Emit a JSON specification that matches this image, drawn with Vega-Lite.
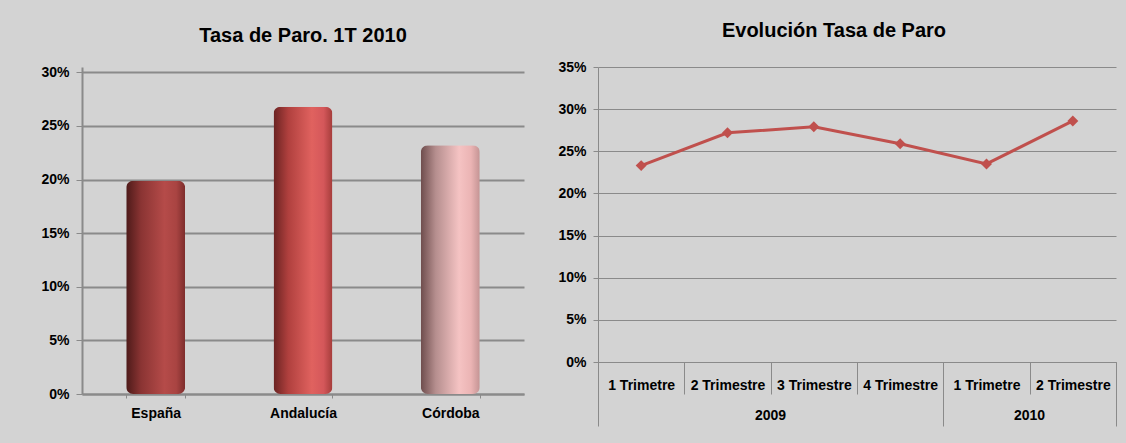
{
  "$schema": "https://vega.github.io/schema/vega-lite/v6.json",
  "background": "#D3D3D3",
  "padding": {"left": 40, "top": 21, "right": 11, "bottom": 26},
  "spacing": 74,
  "bounds": "flush",
  "config": {
    "font": "Liberation Sans",
    "view": {"stroke": null},
    "title": {"fontSize": 20, "fontWeight": "bold", "color": "#000000", "font": "Liberation Sans", "baseline": "alphabetic", "offset": 19},
    "axis": {"labelFont": "Liberation Sans", "labelFontSize": 14, "labelFontWeight": "bold", "labelColor": "#000000", "domainColor": "#8a8a8a", "tickColor": "#8a8a8a", "gridColor": "#8a8a8a", "title": null}
  },
  "hconcat": [
    {
      "title": {"text": "Tasa de Paro. 1T 2010"},
      "width": 442,
      "height": 327,
      "data": {"values": [
        {"region": "España", "tasa": 0.199},
        {"region": "Andalucía", "tasa": 0.268},
        {"region": "Córdoba", "tasa": 0.232}
      ]},
      "encoding": {
        "x": {"field": "region", "type": "nominal", "sort": null,
          "scale": {"domain": ["España", "Andalucía", "Córdoba"], "paddingInner": 0.6, "paddingOuter": 0.3},
          "axis": {"labelAngle": 0, "tickBand": "extent", "tickSize": 4, "labelPadding": 8, "domainWidth": 2}},
        "y": {"field": "tasa", "type": "quantitative",
          "scale": {"domain": [0, 0.305], "nice": false},
          "axis": {"values": [0, 0.05, 0.1, 0.15, 0.2, 0.25, 0.3], "format": ".0%", "grid": true, "gridWidth": 2, "domainWidth": 2, "tickSize": 6, "labelPadding": 7}}
      },
      "layer": [
        {"transform": [{"filter": "datum.region == 'España'"}],
         "mark": {"type": "bar", "cornerRadius": 7, "fill": {"gradient": "linear", "x1": 0, "y1": 0, "x2": 1, "y2": 0, "stops": [
           {"offset": 0, "color": "#4d1a19"}, {"offset": 0.25, "color": "#8a3433"}, {"offset": 0.65, "color": "#b54b49"}, {"offset": 0.85, "color": "#a94442"}, {"offset": 1, "color": "#7d2d2c"}]}}},
        {"transform": [{"filter": "datum.region == 'Andalucía'"}],
         "mark": {"type": "bar", "cornerRadius": 7, "fill": {"gradient": "linear", "x1": 0, "y1": 0, "x2": 1, "y2": 0, "stops": [
           {"offset": 0, "color": "#6a2322"}, {"offset": 0.25, "color": "#b0403e"}, {"offset": 0.65, "color": "#e0625f"}, {"offset": 0.85, "color": "#d4575a"}, {"offset": 1, "color": "#a43c3a"}]}}},
        {"transform": [{"filter": "datum.region == 'Córdoba'"}],
         "mark": {"type": "bar", "cornerRadius": 7, "fill": {"gradient": "linear", "x1": 0, "y1": 0, "x2": 1, "y2": 0, "stops": [
           {"offset": 0, "color": "#6e4d4d"}, {"offset": 0.25, "color": "#b58e8e"}, {"offset": 0.65, "color": "#f5c3c3"}, {"offset": 0.85, "color": "#ebb4b4"}, {"offset": 1, "color": "#c49494"}]}}}
      ]
    },
    {
      "title": {"text": "Evolución Tasa de Paro", "dx": -23},
      "width": 518,
      "height": 295,
      "data": {"values": [
        {"k": "2009|1 Trimetre", "tasa": 0.233},
        {"k": "2009|2 Trimestre", "tasa": 0.272},
        {"k": "2009|3 Trimestre", "tasa": 0.279},
        {"k": "2009|4 Trimestre", "tasa": 0.259},
        {"k": "2010|1 Trimetre", "tasa": 0.235},
        {"k": "2010|2 Trimestre", "tasa": 0.286}
      ]},
      "encoding": {
        "y": {"field": "tasa", "type": "quantitative",
          "scale": {"domain": [0, 0.35], "nice": false},
          "axis": {"values": [0, 0.05, 0.1, 0.15, 0.2, 0.25, 0.3, 0.35], "format": ".0%", "grid": true, "gridWidth": 1, "tickSize": 5, "labelPadding": 7}}
      },
      "layer": [
        {"mark": {"type": "line", "color": "#C0504D", "strokeWidth": 3},
         "encoding": {
           "x": {"field": "k", "type": "ordinal", "sort": null, "bandPosition": 0.5,
             "scale": {"type": "band", "paddingInner": 0, "paddingOuter": 0},
             "axis": {"orient": "bottom", "labelAngle": 0, "labelExpr": "split(datum.value, '|')[1]", "tickBand": "extent", "tickSize": 32, "labelPadding": -16}}
         }},
        {"mark": {"type": "point", "shape": "diamond", "filled": true, "size": 120, "color": "#C0504D", "opacity": 1},
         "encoding": {
           "x": {"field": "k", "type": "ordinal", "sort": null, "bandPosition": 0.5,
             "scale": {"type": "band", "paddingInner": 0, "paddingOuter": 0},
             "axis": {"orient": "bottom", "labelAngle": 0, "bandPosition": 0, "domain": false, "tickSize": 64, "labelPadding": -18, "labelOffset": 43,
               "labelExpr": "datum.value == '2009|2 Trimestre' ? '2009' : (datum.value == '2010|1 Trimetre' ? '2010' : '')",
               "tickOpacity": {"condition": {"test": "datum.value == '2009|1 Trimetre' || datum.value == '2010|1 Trimetre'", "value": 1}, "value": 0}}}
         }},
        {"mark": {"type": "point", "opacity": 0},
         "encoding": {
           "x": {"field": "k", "type": "ordinal", "sort": null, "bandPosition": 0.5,
             "scale": {"type": "band", "paddingInner": 0, "paddingOuter": 0},
             "axis": {"orient": "bottom", "labels": false, "bandPosition": 1, "domain": false, "tickSize": 64,
               "tickOpacity": {"condition": {"test": "datum.value == '2010|2 Trimestre'", "value": 1}, "value": 0}}}
         }}
      ],
      "resolve": {"axis": {"x": "independent"}}
    }
  ]
}
